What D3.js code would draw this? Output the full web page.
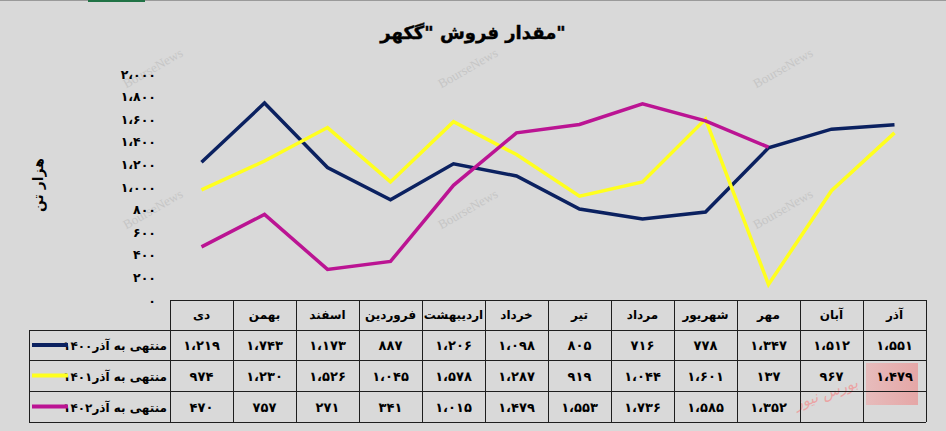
<!DOCTYPE html>
<html><head><meta charset="utf-8">
<script src="https://cdn.jsdelivr.net/npm/d3@7"></script>
<style>body{margin:0;background:#d9d9d9;overflow:hidden} svg{display:block}</style>
</head><body><svg id="c" width="946" height="431"></svg>
<script>
const months = ["دی","بهمن","اسفند","فروردین","اردیبهشت","خرداد","تیر","مرداد","شهریور","مهر","آبان","آذر"];
const s1400 = [1219,1743,1173,887,1206,1098,805,716,778,1347,1512,1551];
const s1401 = [974,1230,1526,1045,1578,1287,919,1044,1601,137,967,1479];
const s1402 = [470,757,271,341,1015,1479,1553,1736,1585,1352,null,null];
const seriesNames = ["منتهی به آذر۱۴۰۰","منتهی به آذر۱۴۰۱","منتهی به آذر۱۴۰۲"];
const seriesColors = ["#0b2160","#ffff1e","#bb1493"];
const yTicks = [0,200,400,600,800,1000,1200,1400,1600,1800,2000];
const titleText = 'مقدار فروش "گکهر"';
const yLabelText = "هزار تن";

const series = [s1400, s1401, s1402];
const FONT = "'DejaVu Sans', sans-serif";
const faDigits = "۰۱۲۳۴۵۶۷۸۹";
const fa = n => d3.format(",")(n).replace(/\d/g, d => faDigits[+d]).replace(/,/g, "،");

const svg = d3.select("#c");
const W = 946, H = 431;
svg.append("rect").attr("width", W).attr("height", H).attr("fill", "#d9d9d9");
svg.append("line").attr("x1", 0).attr("x2", W).attr("y1", 0.5).attr("y2", 0.5).attr("stroke", "#9a9a9a");
svg.append("rect").attr("x", 88).attr("y", 0).attr("width", 57).attr("height", 2).attr("fill", "#217346");

// watermarks
const wm = [[155,72],[155,213],[470,72],[470,213],[785,72],[785,213]];
svg.append("g").selectAll("text").data(wm).join("text")
  .attr("transform", d => `translate(${d[0]},${d[1]}) rotate(-30)`)
  .attr("text-anchor", "middle").attr("font-family", "'Liberation Serif', serif")
  .attr("font-size", 13).attr("fill", "#c6c6c6").text("BourseNews");

const x = d3.scaleBand().domain(months).range([170, 926]).padding(0);
const y = d3.scaleLinear().domain([0, 2000]).range([300, 74]);
const cx = m => x(m) + x.bandwidth() / 2;

// title
svg.append("text").attr("x", 473).attr("y", 39).attr("text-anchor", "middle")
  .attr("font-family", FONT).attr("font-weight", "bold").attr("font-size", 18)
  .attr("stroke", "#000").attr("stroke-width", 0.4)
  .attr("fill", "#000").text(titleText);

// y axis label
svg.append("text").attr("transform", "translate(43,185) rotate(-90)")
  .attr("text-anchor", "middle").attr("font-family", FONT).attr("font-weight", "bold")
  .attr("font-size", 14).attr("fill", "#000").text(yLabelText);

// y axis (no line)
const yAxis = d3.axisLeft(y).tickValues(yTicks).tickFormat(fa).tickSize(0).tickPadding(0);
const ga = svg.append("g").attr("transform", "translate(156,0)").call(yAxis);
ga.select(".domain").remove();
ga.selectAll("text").attr("font-family", FONT).attr("font-weight", "bold").attr("font-size", 12.5).attr("fill", "#000");

// lines
const line = d3.line().defined(d => d != null)
  .x((d, i) => cx(months[i])).y(d => y(d));
svg.append("g").selectAll("path").data(series).join("path")
  .attr("d", d => line(d)).attr("fill", "none")
  .attr("stroke", (d, i) => seriesColors[i]).attr("stroke-width", 3.5);

// table
const rowTop = [300, 330, 360, 391, 422];
const tb = svg.append("g");
const stroke = "#1e1e1e";
// decorative logo tint
const defs = svg.append("defs");
const lg = defs.append("linearGradient").attr("id", "lg").attr("x1", 0).attr("x2", 1);
lg.append("stop").attr("offset", 0).attr("stop-color", "#eab4b4");
lg.append("stop").attr("offset", 1).attr("stop-color", "#e89a9a");
tb.append("rect").attr("x", 866).attr("y", 363).attr("width", 52).attr("height", 42).attr("fill", "url(#lg)").attr("opacity", 0.8);
tb.append("text").attr("transform", "translate(828,398) rotate(-20)").attr("text-anchor", "middle")
  .attr("font-family", FONT).attr("font-size", 15).attr("font-style", "italic").attr("fill", "#eba4a4").text("بورس نیوز");

// header row cells
tb.selectAll(".hd").data(months).join("text")
  .attr("x", d => cx(d)).attr("y", (rowTop[0] + rowTop[1]) / 2 + 4)
  .attr("text-anchor", "middle").attr("font-family", FONT).attr("font-weight", "bold")
  .attr("font-size", 12).attr("fill", "#000").text(d => d);
// values
series.forEach((s, r) => {
  const yc = (rowTop[r + 1] + rowTop[r + 2]) / 2 + 5;
  tb.append("g").selectAll("text").data(s).join("text")
    .attr("x", (d, i) => cx(months[i])).attr("y", yc)
    .attr("text-anchor", "middle").attr("font-family", FONT).attr("font-weight", "bold")
    .attr("font-size", 13).attr("fill", "#000").text(d => d == null ? "" : fa(d));
  tb.append("text").attr("x", 167).attr("y", yc).attr("text-anchor", "end")
    .attr("font-family", FONT).attr("font-weight", "bold").attr("font-size", 12).attr("fill", "#000")
    .text(seriesNames[r]);
  tb.append("line").attr("x1", 32).attr("x2", 68).attr("y1", yc - 5).attr("y2", yc - 5)
    .attr("stroke", seriesColors[r]).attr("stroke-width", 4);
});
// grid lines
const hl = (x1, x2, yy) => tb.append("line").attr("x1", x1).attr("x2", x2).attr("y1", yy).attr("y2", yy).attr("stroke", stroke).attr("stroke-width", 1);
const vl = (xx, y1, y2) => tb.append("line").attr("x1", xx).attr("x2", xx).attr("y1", y1).attr("y2", y2).attr("stroke", stroke).attr("stroke-width", 1);
hl(170, 926, rowTop[0] + 0.5);
for (let k = 1; k < rowTop.length; k++) hl(29, 926, rowTop[k] + 0.5);
vl(29.5, rowTop[1], rowTop[4]);
months.forEach(m => vl(Math.round(x(m)) + 0.5, rowTop[0], rowTop[4]));
vl(926.5, rowTop[0], rowTop[4]);
</script></body></html>
